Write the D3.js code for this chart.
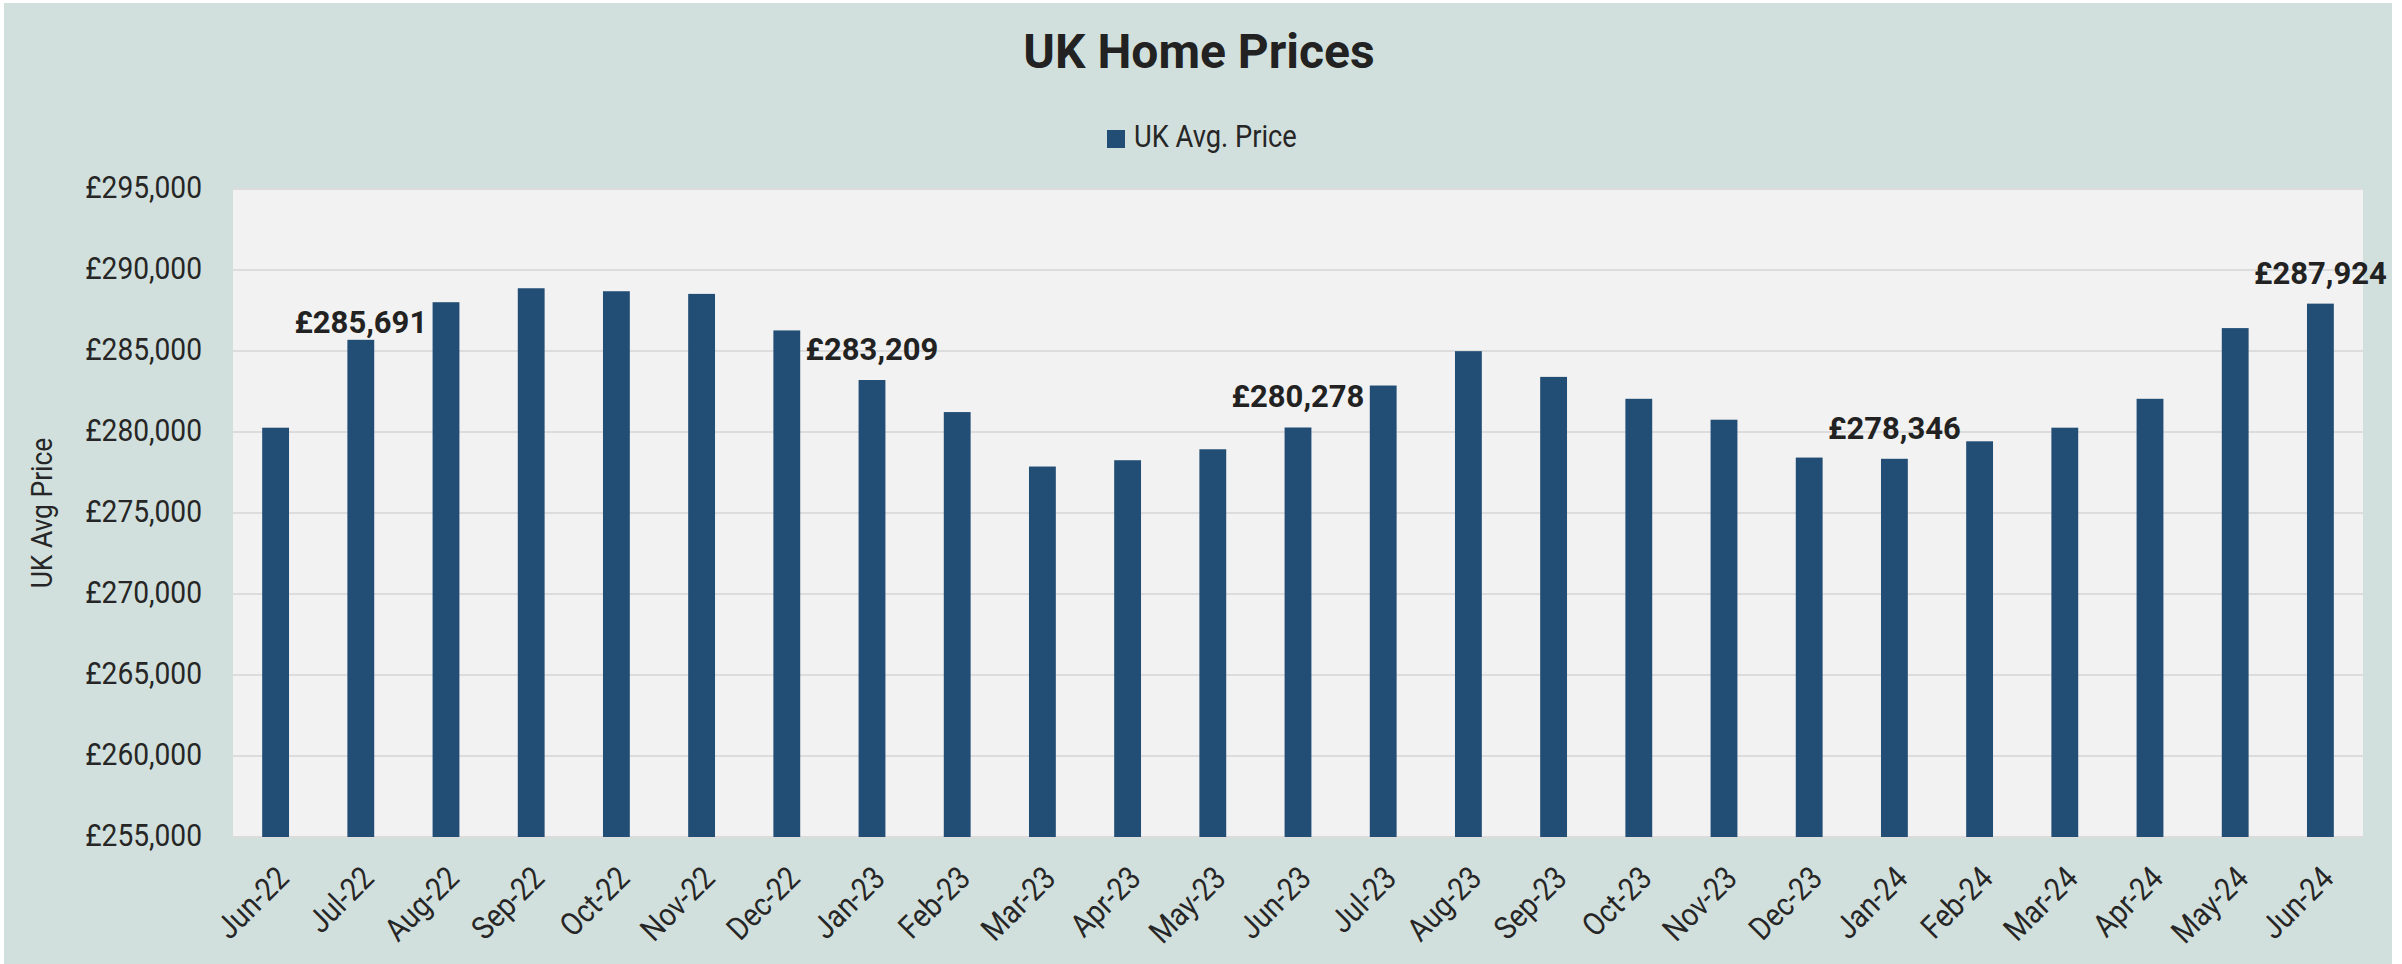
<!DOCTYPE html>
<html>
<head>
<meta charset="utf-8">
<script src="https://cdn.jsdelivr.net/npm/d3@7"></script>
<style>
  html, body { margin: 0; padding: 0; background: #ffffff; }
  svg { display: block; font-family: Roboto, "Noto Sans", sans-serif; }
</style>
</head>
<body>
<svg id="chart" width="2402" height="964"></svg>
<script>
// Monthly UK average house price, Jun 2022 – Jun 2024
const months = [
  "Jun-22", "Jul-22", "Aug-22", "Sep-22", "Oct-22", "Nov-22", "Dec-22",
  "Jan-23", "Feb-23", "Mar-23", "Apr-23", "May-23", "Jun-23", "Jul-23",
  "Aug-23", "Sep-23", "Oct-23", "Nov-23", "Dec-23", "Jan-24", "Feb-24",
  "Mar-24", "Apr-24", "May-24", "Jun-24"
];
const avgPrice = [
  280265, 285691, 288012, 288873, 288689, 288525, 286270,
  283209, 281230, 277869, 278258, 278934, 280278, 282869,
  284990, 283402, 282049, 280758, 278422, 278346, 279426,
  280266, 282049, 286414, 287924
];
// Months whose value is printed above the bar
const labelledMonths = ["Jul-22", "Jan-23", "Jun-23", "Jan-24", "Jun-24"];
const yTicks = [255000, 260000, 265000, 270000, 275000, 280000, 285000, 290000, 295000];

const seriesName = "UK Avg. Price";
const axisTitle = "UK Avg Price";
const chartTitle = "UK Home Prices";

const data = months.map((m, i) => ({ month: m, value: avgPrice[i] }));

const W = 2402, H = 964;
const plot = { left: 233, right: 2363, top: 189, bottom: 837 };
const narrow = 0.88; // horizontal squeeze for the regular-weight text

const svg = d3.select("#chart");

// Chart backdrop
svg.append("rect")
  .attr("x", 4).attr("y", 3)
  .attr("width", W - 14).attr("height", H - 3)
  .attr("fill", "#d2e0dd");

// Plot area
svg.append("rect")
  .attr("x", plot.left).attr("y", plot.top)
  .attr("width", plot.right - plot.left).attr("height", plot.bottom - plot.top)
  .attr("fill", "#f2f2f2");

const x = d3.scaleBand()
  .domain(months)
  .range([plot.left, plot.right])
  .paddingInner(0.685)
  .paddingOuter(0.3425);

const y = d3.scaleLinear()
  .domain([255000, 295000])
  .range([plot.bottom, plot.top]);

const fmtMoney = v => "£" + d3.format(",")(v);

// Gridlines
svg.append("g")
  .selectAll("line")
  .data(yTicks)
  .join("line")
  .attr("x1", plot.left).attr("x2", plot.right)
  .attr("y1", d => y(d)).attr("y2", d => y(d))
  .attr("stroke", "#dcdcdc")
  .attr("stroke-width", 2);

// Y axis
const yAxis = svg.append("g")
  .attr("transform", `translate(${plot.left},0)`)
  .call(d3.axisLeft(y).tickValues(yTicks).tickFormat(fmtMoney).tickSize(0).tickPadding(31 / narrow));
yAxis.select(".domain").remove();
yAxis.selectAll("text")
  .attr("fill", "#262626")
  .attr("font-size", 32)
  .attr("dy", "0.25em")
  .attr("transform", `scale(${narrow},1)`)
  .style("font-family", "Roboto");

// X axis
const xAxis = svg.append("g")
  .attr("transform", `translate(0,${plot.bottom})`)
  .call(d3.axisBottom(x).tickSize(0).tickPadding(0));
xAxis.select(".domain").remove();
xAxis.selectAll("text")
  .attr("fill", "#262626")
  .attr("font-size", 32)
  .attr("text-anchor", "end")
  .attr("dy", 0)
  .attr("transform", `translate(15,43) rotate(-45) scale(${narrow},1)`)
  .style("font-family", "Roboto");

// Bars
svg.append("g")
  .selectAll("rect")
  .data(data)
  .join("rect")
  .attr("x", d => x(d.month))
  .attr("y", d => y(d.value))
  .attr("width", x.bandwidth())
  .attr("height", d => y(255000) - y(d.value))
  .attr("fill", "#224e75");

// Value labels
const labelLift = { "Jul-22": 7 };
svg.append("g")
  .selectAll("text")
  .data(data.filter(d => labelledMonths.includes(d.month)))
  .join("text")
  .attr("x", d => x(d.month) + x.bandwidth() / 2)
  .attr("y", d => y(d.value) - (labelLift[d.month] ?? 20))
  .attr("text-anchor", "middle")
  .attr("font-size", 31)
  .attr("font-weight", 700)
  .attr("fill", "#222222")
  .text(d => fmtMoney(d.value));

// Title
svg.append("text")
  .attr("x", 1199).attr("y", 68)
  .attr("text-anchor", "middle")
  .attr("font-size", 48)
  .attr("font-weight", 700)
  .attr("fill", "#222222")
  .text(chartTitle);

// Legend
const legend = svg.append("g");
legend.append("rect")
  .attr("x", 1107).attr("y", 130)
  .attr("width", 18).attr("height", 18)
  .attr("fill", "#224e75");
legend.append("text")
  .attr("transform", `translate(1134,147) scale(${narrow},1)`)
  .attr("font-size", 31)
  .attr("fill", "#262626")
  .text(seriesName);

// Y axis title
svg.append("text")
  .attr("transform", `translate(52,${(plot.top + plot.bottom) / 2}) rotate(-90) scale(${narrow},1)`)
  .attr("text-anchor", "middle")
  .attr("font-size", 30)
  .attr("fill", "#262626")
  .text(axisTitle);
</script>
</body>
</html>
